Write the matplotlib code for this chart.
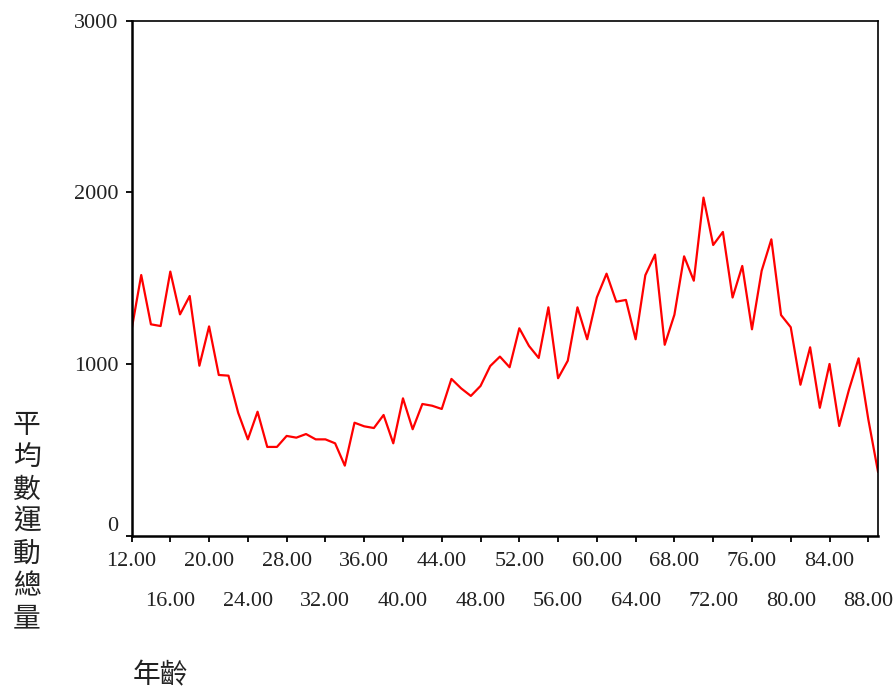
import numpy as np
import matplotlib; matplotlib.use('Agg')
import matplotlib.pyplot as plt

# average total exercise by age
ages = list(range(12, 90))
values = [1198, 1518, 1231, 1221, 1538, 1289, 1396, 990, 1219, 936,
          932, 716, 561, 722, 517, 517, 581, 571, 592, 561,
          561, 538, 408, 658, 637, 627, 703, 538, 800, 620,
          767, 757, 738, 913, 858, 814, 872, 988, 1043, 981,
          1208, 1105, 1035, 1330, 917, 1019, 1330, 1144, 1388, 1526,
          1363, 1373, 1144, 1517, 1637, 1112, 1287, 1627, 1485, 1969,
          1693, 1769, 1387, 1571, 1202, 1543, 1726, 1285, 1214, 879,
          1097, 745, 1000, 639, 849, 1033, 678, 373]
yticks = [0, 1000, 2000, 3000]
xticks_row1 = list(range(12, 89, 8))   # 12, 20, ... 84
xticks_row2 = list(range(16, 89, 8))   # 16, 24, ... 88

num_font = 'Liberation Serif'
cjk_font = ['Noto Sans CJK TC', 'DejaVu Sans']

fig = plt.figure(figsize=(8.96, 6.93), dpi=100)
ax = fig.add_axes([0.1468, 0.2270, 0.8331, 0.7433])

ax.plot(ages, values, color='#ff0000', lw=1.6)

ax.set_xlim(12, 89)
ax.set_ylim(0, 3000)

ax.set_yticks(yticks)
ax.set_yticklabels([str(v) for v in yticks], fontfamily=num_font, fontsize=16)

ax.set_xticks(xticks_row1)
ax.set_xticklabels([f'{v:.2f}' for v in xticks_row1], fontfamily=num_font, fontsize=16)
ax.set_xticks(xticks_row2, minor=True)
ax.set_xticklabels([f'{v:.2f}' for v in xticks_row2], minor=True,
                   fontfamily=num_font, fontsize=16)

ax.tick_params(axis='both', which='both', direction='out', length=4.5,
               width=1.3, color='black', labelcolor='#222222')
ax.tick_params(axis='x', which='major', pad=7)
ax.tick_params(axis='x', which='minor', pad=36)
ax.tick_params(axis='y', which='major', pad=5)

# "0" label sits a little above its tick in the original
for lbl in ax.get_yticklabels():
    if lbl.get_text() == '0':
        lbl.set_verticalalignment('bottom')

for side in ['left', 'bottom']:
    ax.spines[side].set_linewidth(1.8)
for side in ['top', 'right']:
    ax.spines[side].set_linewidth(1.2)

fig.text(0.030, 0.247, '平\n均\n數\n運\n動\n總\n量', family=cjk_font,
         fontsize=20, ha='center', va='center', linespacing=1.1, color='#222222')
fig.text(0.148, 0.026, '年齡', family=cjk_font, fontsize=20,
         ha='left', va='center', color='#222222')

fig.savefig('out.png', dpi=100)
